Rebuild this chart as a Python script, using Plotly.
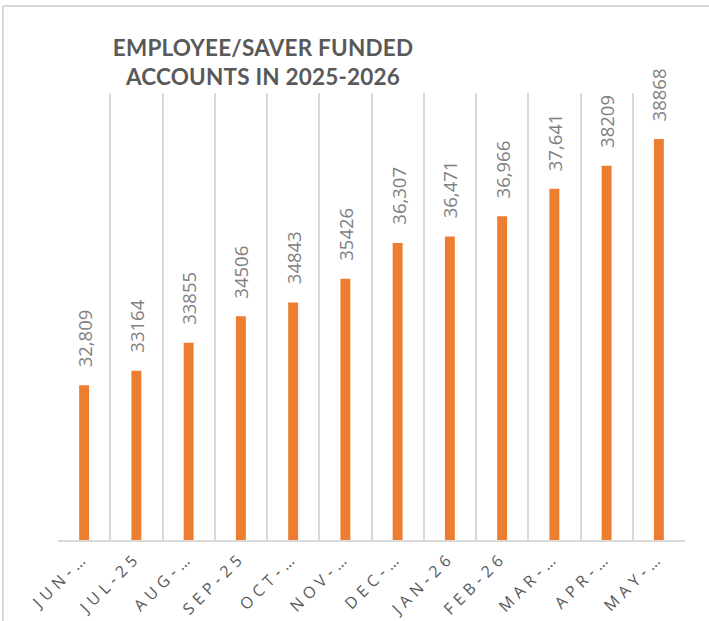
import plotly.graph_objects as go

months = ["JUN-…", "JUL-25", "AUG-…", "SEP-25", "OCT-…", "NOV-…",
          "DEC-…", "JAN-26", "FEB-26", "MAR-…", "APR-…", "MAY-…"]
accounts = [32809, 33164, 33855, 34506, 34843, 35426,
            36307, 36471, 36966, 37641, 38209, 38868]
value_labels = ["32,809", "33164", "33855", "34506", "34843", "35426",
                "36,307", "36,471", "36,966", "37,641", "38209", "38868"]
title_text = "EMPLOYEE/SAVER FUNDED<br>ACCOUNTS IN 2025-2026"

W, H = 709, 621
ML, MR, MT, MB = 58, 24, 93, 81
PW, PH = W - ML - MR, H - MT - MB

fig = go.Figure()
fig.add_trace(go.Bar(
    x=months, y=accounts, width=0.19,
    marker=dict(color="#ED7D31", line=dict(width=0)),
    hoverinfo="x+y",
))

for m, v, t in zip(months, accounts, value_labels):
    fig.add_annotation(
        x=m, y=v, xref="x", yref="y", text=t, showarrow=False,
        textangle=-90, yanchor="bottom", xanchor="center", yshift=16,
        font=dict(family="Open Sans", size=18.5, color="#808080"),
    )

# outer chart border (only top/left edges fall inside the picture)
fig.add_shape(
    type="line", xref="paper", yref="paper",
    x0=(3 - ML) / PW, x1=(3 - ML) / PW, y0=-0.3, y1=(MT + PH - 6) / PH,
    line=dict(color="#D9D9D9", width=2), layer="above",
)
fig.add_shape(
    type="line", xref="paper", yref="paper",
    x0=(3 - ML) / PW, x1=1.2, y0=(MT + PH - 6) / PH, y1=(MT + PH - 6) / PH,
    line=dict(color="#D9D9D9", width=2), layer="above",
)

fig.update_layout(
    width=W, height=H,
    margin=dict(l=ML, r=MR, t=MT, b=MB, pad=0),
    paper_bgcolor="white", plot_bgcolor="white",
    showlegend=False,
    title=dict(
        text=title_text, xref="container", yref="container",
        x=263 / W, xanchor="center", y=1 - 56 / H, yanchor="top",
        font=dict(family="Lato", size=22.5, color="#595959", weight="bold"),
    ),
    xaxis=dict(
        type="category", tickson="boundaries", showgrid=True,
        gridcolor="#D9D9D9", gridwidth=1.5,
        showline=True, linecolor="#D9D9D9", linewidth=1.5,
        ticks="", tickangle=-45, automargin=False,
        tickfont=dict(family="Open Sans", size=16, color="#595959"),
        range=[-0.5, 11.5], fixedrange=True,
    ),
    yaxis=dict(
        range=[29000, 40000], showgrid=False, zeroline=False,
        showticklabels=False, showline=False, automargin=False,
        fixedrange=True,
    ),
)

post = """
document.body.style.margin = '0';
document.documentElement.style.overflow = 'hidden';
var s = document.createElement('style');
s.textContent = '.xtick text{letter-spacing:5px !important;} .gtitle{letter-spacing:0.2px !important;}';
document.head.appendChild(s);
"""
fig.write_html("out.html", post_script=post, config={"displayModeBar": False})
